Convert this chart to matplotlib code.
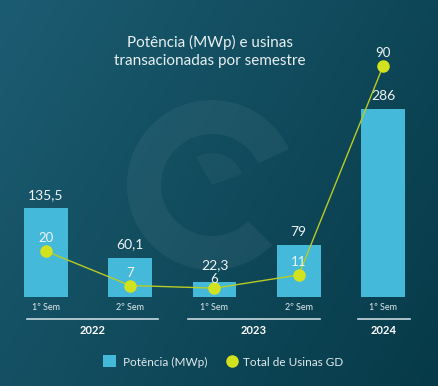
import numpy as np
import matplotlib.pyplot as plt
from matplotlib.patches import Wedge, Rectangle

# dados
semestres = ['1º Sem', '2º Sem', '1º Sem', '2º Sem', '1º Sem']
anos = ['2022', '2023', '2024']
potencia = [135.5, 60.1, 22.3, 79, 286]
potencia_txt = ['135,5', '60,1', '22,3', '79', '286']
usinas = [20, 7, 6, 11, 90]

W, H = 439, 386
fig = plt.figure(figsize=(W / 100, H / 100), dpi=100)

def fx(px):
    return px / W

def fy(py):
    return 1 - py / H

# fundo em degrade
bg = fig.add_axes([0, 0, 1, 1])
xx, yy = np.meshgrid(np.linspace(0, 1, 200), np.linspace(0, 1, 200))
t = 0.65 * xx + 0.35 * yy
c0 = np.array([28, 92, 114]) / 255
c1 = np.array([6, 58, 72]) / 255
img = c0[None, None, :] * (1 - t[..., None]) + c1[None, None, :] * t[..., None]
bg.imshow(img, extent=[0, W, H, 0], aspect='auto')
bg.set_xlim(0, W)
bg.set_ylim(H, 0)
bg.axis('off')

# marca d'agua
bg.add_patch(Wedge((212, 185), 85, 45, 335, width=34, facecolor='white', alpha=0.05, lw=0))
bg.add_patch(Wedge((212, 185), 32, 240, 340, width=32, facecolor='white', alpha=0.04, lw=0))

# eixo das barras
x = np.arange(len(potencia))
ax = fig.add_axes([0, fy(297), 1, (297 - 60) / H])
ax.patch.set_alpha(0)
ax.bar(x, potencia, width=0.52, color='#45b9da')
ax.set_xlim(-0.546, 4.665)
ax.set_ylim(0, 360.7)
ax.axis('off')
for xi, v, s in zip(x, potencia, potencia_txt):
    off = 8 if s == '22,3' else 5
    ax.annotate(s, (xi, v), xytext=(0, off), textcoords='offset points',
                ha='center', va='bottom', color='#eef4f4', fontsize=10, family='Lato')

# eixo da linha
ax2 = ax.twinx()
ax2.plot(x, usinas, color='#b8cc22', lw=1.0, marker='o', ms=8,
         markerfacecolor='#d2e21e', markeredgecolor='#d2e21e')
ax2.set_ylim(2.65, 92.4)
ax2.axis('off')
for xi, v in zip(x, usinas):
    off = 2 if v == 6 else 5
    ax2.annotate(str(v), (xi, v), xytext=(0, off), textcoords='offset points',
                 ha='center', va='bottom', color='#eef4f4', fontsize=9.5, family='Lato')

# rotulos dos semestres
for xi, s in zip(x, semestres):
    px = 46 + xi * 84.25
    fig.text(fx(px), fy(307), s, ha='center', va='center', color='#e0eaec', fontsize=6.5, family='Lato')

# anos
grupos = [(27, 158), (188, 320), (358, 410)]
for (a, b), ano in zip(grupos, anos):
    bg.plot([a, b], [319, 319], color='#c9dadf', lw=1.2)
    fig.text(fx((a + b) / 2), fy(331), ano, ha='center', va='center', color='white',
             fontsize=8, fontweight='bold', family='Lato')

# titulo
fig.text(fx(210), fy(42), 'Potência (MWp) e usinas', ha='center', va='center',
         color='#e8f0f0', fontsize=11, family='Lato')
fig.text(fx(210), fy(61), 'transacionadas por semestre', ha='center', va='center',
         color='#e8f0f0', fontsize=11, family='Lato')

# legenda
bg.add_patch(Rectangle((103, 355), 13, 12, facecolor='#45b9da', lw=0))
fig.text(fx(123), fy(362), 'Potência (MWp)', ha='left', va='center', color='#e0eaec',
         fontsize=8.5, family='Lato')
bg.plot([232], [361], 'o', ms=8, color='#d2e21e')
fig.text(fx(243), fy(362), 'Total de Usinas GD', ha='left', va='center', color='#e0eaec',
         fontsize=8.5, family='Lato')

fig.savefig('out.png', dpi=100)
